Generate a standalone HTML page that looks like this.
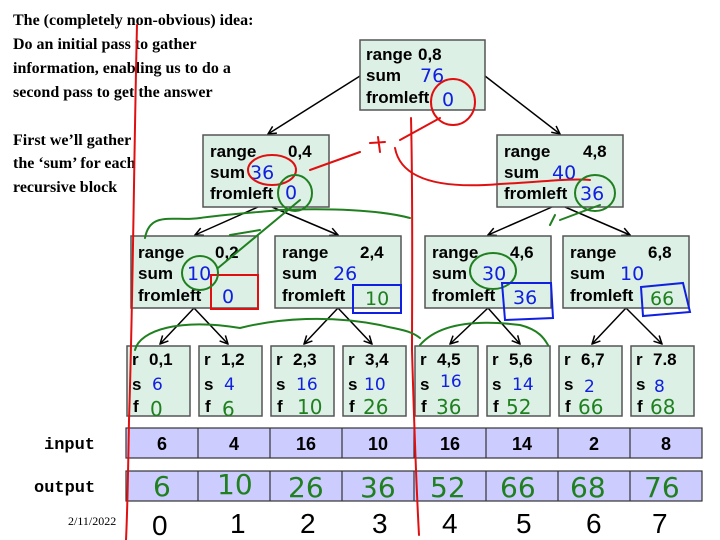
<!DOCTYPE html>
<html><head><meta charset="utf-8"><style>
html,body{margin:0;padding:0;background:#fff;}
svg{display:block}
.t{font-family:"Liberation Serif",serif;font-weight:bold;font-size:16px;fill:#000}
.b{font-family:"Liberation Sans",sans-serif;font-weight:bold;font-size:17px;fill:#000}
.h{font-family:"DejaVu Sans","Liberation Sans",sans-serif;font-size:19px}
.hb{fill:#1020e0}.hg{fill:#208020}
</style></head><body>
<svg width="720" height="540" viewBox="0 0 720 540" xmlns="http://www.w3.org/2000/svg">
<defs><marker id="a" markerWidth="10" markerHeight="10" refX="9" refY="5" orient="auto" markerUnits="userSpaceOnUse"><path d="M1,1 L9,5 L1,9" fill="none" stroke="#000" stroke-width="1.5"/></marker></defs>
<g class="t">
<text x="13" y="25">The (completely non-obvious) idea:</text>
<text x="13" y="49">Do an initial pass to gather</text>
<text x="13" y="73">information, enabling us to do a</text>
<text x="13" y="97">second pass to get the answer</text>
<text x="13" y="145">First we’ll gather</text>
<text x="13" y="168">the ‘sum’ for each</text>
<text x="13" y="192">recursive block</text>
</g>
<g stroke="#000" stroke-width="1.5" marker-end="url(#a)">
<line x1="360" y1="76" x2="268" y2="134"/><line x1="485" y1="76" x2="560" y2="134"/>
<line x1="258" y1="207" x2="195" y2="235"/><line x1="272" y1="207" x2="338" y2="235"/>
<line x1="552" y1="207" x2="488" y2="235"/><line x1="565" y1="207" x2="630" y2="235"/>
<line x1="194" y1="308" x2="160" y2="344"/><line x1="194" y1="308" x2="228" y2="344"/>
<line x1="338" y1="308" x2="304" y2="344"/><line x1="338" y1="308" x2="372" y2="344"/>
<line x1="488" y1="308" x2="450" y2="344"/><line x1="488" y1="308" x2="520" y2="344"/>
<line x1="626" y1="308" x2="592" y2="344"/><line x1="626" y1="308" x2="662" y2="344"/>
</g>
<g fill="#dcf0e6" stroke="#555" stroke-width="1.5">
<rect x="360" y="40" width="125" height="70"/>
<rect x="203" y="135" width="126" height="72"/><rect x="497" y="135" width="126" height="72"/>
<rect x="131" y="236" width="127" height="72"/><rect x="275" y="236" width="126" height="72"/>
<rect x="425" y="236" width="126" height="72"/><rect x="563" y="236" width="126" height="72"/>
<rect x="127" y="346" width="63" height="70"/><rect x="199" y="346" width="63" height="70"/>
<rect x="271" y="346" width="63" height="70"/><rect x="343" y="346" width="63" height="70"/>
<rect x="415" y="346" width="63" height="70"/><rect x="487" y="346" width="63" height="70"/>
<rect x="559" y="346" width="63" height="70"/><rect x="631" y="346" width="63" height="70"/>
</g>
<g fill="#ccccff" stroke="#333" stroke-width="1.2">
<rect x="126" y="428" width="576" height="30"/><rect x="126" y="471" width="576" height="30"/>
</g>
<g stroke="#333" stroke-width="1.2">
<line x1="198" y1="428" x2="198" y2="458"/><line x1="270" y1="428" x2="270" y2="458"/><line x1="342" y1="428" x2="342" y2="458"/><line x1="414" y1="428" x2="414" y2="458"/><line x1="486" y1="428" x2="486" y2="458"/><line x1="558" y1="428" x2="558" y2="458"/><line x1="630" y1="428" x2="630" y2="458"/>
<line x1="198" y1="471" x2="198" y2="501"/><line x1="270" y1="471" x2="270" y2="501"/><line x1="342" y1="471" x2="342" y2="501"/><line x1="414" y1="471" x2="414" y2="501"/><line x1="486" y1="471" x2="486" y2="501"/><line x1="558" y1="471" x2="558" y2="501"/><line x1="630" y1="471" x2="630" y2="501"/>
</g>
<g class="b">
<text x="366" y="60">range</text><text x="418" y="60">0,8</text><text x="366" y="81">sum</text><text x="366" y="103">fromleft</text>
<text x="210" y="157">range</text><text x="288" y="157">0,4</text><text x="210" y="178">sum</text><text x="210" y="199">fromleft</text>
<text x="504" y="157">range</text><text x="583" y="157">4,8</text><text x="504" y="178">sum</text><text x="504" y="199">fromleft</text>
<text x="138" y="258">range</text><text x="215" y="258">0,2</text><text x="138" y="279">sum</text><text x="138" y="301">fromleft</text>
<text x="282" y="258">range</text><text x="360" y="258">2,4</text><text x="282" y="279">sum</text><text x="282" y="301">fromleft</text>
<text x="432" y="258">range</text><text x="510" y="258">4,6</text><text x="432" y="279">sum</text><text x="432" y="301">fromleft</text>
<text x="570" y="258">range</text><text x="648" y="258">6,8</text><text x="570" y="279">sum</text><text x="570" y="301">fromleft</text>
<g><text x="132" y="365">r</text><text x="204" y="365">r</text><text x="276" y="365">r</text><text x="348" y="365">r</text><text x="420" y="365">r</text><text x="492" y="365">r</text><text x="564" y="365">r</text><text x="636" y="365">r</text></g>
<g><text x="149" y="365">0,1</text><text x="221" y="365">1,2</text><text x="293" y="365">2,3</text><text x="365" y="365">3,4</text><text x="437" y="365">4,5</text><text x="509" y="365">5,6</text><text x="581" y="365">6,7</text><text x="653" y="365">7.8</text></g>
<g><text x="132" y="390">s</text><text x="204" y="390">s</text><text x="276" y="390">s</text><text x="348" y="390">s</text><text x="420" y="390">s</text><text x="492" y="390">s</text><text x="564" y="390">s</text><text x="636" y="390">s</text></g>
<g><text x="133" y="412">f</text><text x="205" y="412">f</text><text x="277" y="412">f</text><text x="349" y="412">f</text><text x="421" y="412">f</text><text x="493" y="412">f</text><text x="565" y="412">f</text><text x="637" y="412">f</text></g>
<g text-anchor="middle" font-size="18"><text x="162" y="450">6</text><text x="234" y="450">4</text><text x="306" y="450">16</text><text x="378" y="450">10</text><text x="450" y="450">16</text><text x="522" y="450">14</text><text x="594" y="450">2</text><text x="666" y="450">8</text></g>
</g>
<g font-family="Liberation Mono,monospace" font-weight="bold" font-size="17"><text x="44" y="449">input</text><text x="34" y="492">output</text></g>
<text x="68" y="525" font-family="Liberation Serif,serif" font-size="12">2/11/2022</text>
<g class="h">
<text x="420" y="82" class="hb">76</text><text x="442" y="106" class="hb">0</text>
<text x="250" y="179" class="hb">36</text><text x="285" y="199" class="hb">0</text>
<text x="552" y="179" class="hb">40</text><text x="580" y="200" class="hb">36</text>
<text x="187" y="280" class="hb">10</text><text x="222" y="303" class="hb">0</text>
<text x="333" y="280" class="hb">26</text><text x="365" y="305" class="hg">10</text>
<text x="482" y="280" class="hb">30</text><text x="513" y="304" class="hb">36</text>
<text x="620" y="280" class="hb">10</text><text x="650" y="305" class="hg">66</text>
<g class="hb" font-size="17"><text x="152" y="390">6</text><text x="224" y="390">4</text><text x="296" y="390">16</text><text x="364" y="390">10</text><text x="440" y="387">16</text><text x="512" y="390">14</text><text x="584" y="392">2</text><text x="654" y="392">8</text></g>
<g class="hg" font-size="20"><text x="150" y="416">0</text><text x="222" y="416">6</text><text x="297" y="414">10</text><text x="363" y="414">26</text><text x="436" y="414">36</text><text x="506" y="414">52</text><text x="578" y="414">66</text><text x="650" y="414">68</text></g>
<g class="hg" font-size="28"><text x="153" y="496">6</text><text x="217" y="494">10</text><text x="288" y="497">26</text><text x="360" y="497">36</text><text x="430" y="497">52</text><text x="500" y="497">66</text><text x="570" y="497">68</text><text x="644" y="497">76</text></g>
<g fill="#000" font-size="28" font-family="Liberation Sans,sans-serif"><text x="152" y="535">0</text><text x="230" y="533">1</text><text x="300" y="533">2</text><text x="372" y="533">3</text><text x="442" y="533">4</text><text x="516" y="533">5</text><text x="586" y="533">6</text><text x="652" y="533">7</text></g>
</g>
<g fill="none" stroke-width="2" stroke-linecap="round">
<path d="M137,25 C134,150 133,300 129,420 C128,480 127,520 126,540" stroke="#e01010"/>
<path d="M411,118 C413,200 412,300 412,350 C414,420 416,480 419,535" stroke="#e01010"/>
<ellipse cx="453" cy="102" rx="22" ry="23" stroke="#e01010"/>
<ellipse cx="272" cy="170" rx="24" ry="15" stroke="#e01010"/>
<path d="M310,170 L360,152 M378,137 L380,152 M370,143 L385,142 M400,140 L440,118" stroke="#e01010"/>
<path d="M395,148 C400,175 430,190 500,184 C540,182 570,178 590,180" stroke="#e01010"/>
<rect x="211" y="275" width="47" height="34" stroke="#e01010"/>
<ellipse cx="295" cy="193" rx="17" ry="18" stroke="#208020"/>
<ellipse cx="595" cy="193" rx="20" ry="18" stroke="#208020"/>
<ellipse cx="200" cy="273" rx="18" ry="17" stroke="#208020"/>
<ellipse cx="493" cy="271" rx="23" ry="18" stroke="#208020"/>
<path d="M145,238 C150,210 175,222 200,218 C220,215 260,212 280,210 C330,208 380,210 410,218" stroke="#208020"/>
<path d="M218,268 L300,200 M560,220 L600,205 M230,235 L260,230 M550,225 L555,215" stroke="#208020"/>
<path d="M135,350 C140,330 180,318 240,328 C280,318 330,315 380,325 C400,330 410,330 420,338 M420,345 C440,322 480,320 520,325 C540,330 545,340 548,345" stroke="#208020"/>
<rect x="353" y="285" width="48" height="28" stroke="#1020e0"/>
<path d="M502,283 L551,283 L553,318 L505,320 Z" stroke="#1020e0"/>
<path d="M641,287 L683,283 L690,312 L643,316 Z" stroke="#1020e0"/>
</g>
</svg>
</body></html>
